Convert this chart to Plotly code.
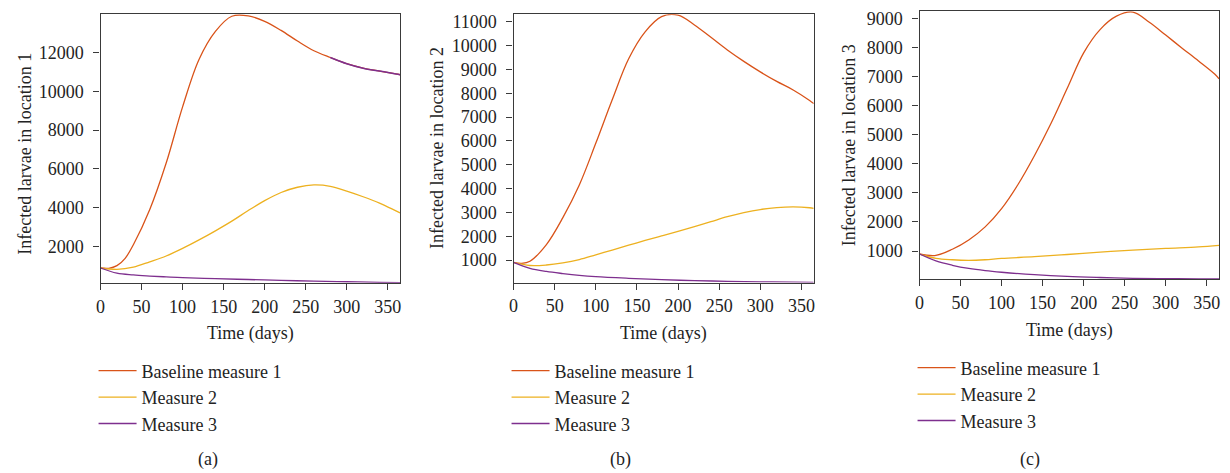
import plotly.graph_objects as go

# ---------------- data ----------------
series_names = ["Baseline measure 1", "Measure 2", "Measure 3"]
panel_labels = ["(a)", "(b)", "(c)"]
y_titles = ["Infected larvae in location 1", "Infected larvae in location 2", "Infected larvae in location 3"]
x_title = "Time (days)"

# Panel (a)
a_base_t = [0, 10, 20, 30, 40, 60, 80, 100, 120, 140, 160, 180, 200, 220, 240, 260, 280, 300, 320, 340, 360, 365]
a_base_v = [880, 865, 1000, 1380, 2080, 3900, 6300, 9200, 11650, 13100, 13880, 13900, 13620, 13150, 12600, 12100, 11750, 11430, 11200, 11050, 10900, 10860]
a_m2_t = [0, 20, 40, 60, 80, 100, 120, 140, 160, 180, 200, 220, 240, 260, 280, 300, 320, 340, 360, 365]
a_m2_v = [880, 805, 920, 1200, 1500, 1890, 2330, 2800, 3300, 3850, 4360, 4780, 5050, 5170, 5100, 4850, 4560, 4230, 3830, 3730]
a_m3_t = [0, 20, 40, 60, 80, 100, 140, 180, 220, 260, 300, 340, 365]
a_m3_v = [880, 610, 520, 465, 420, 380, 330, 285, 240, 200, 170, 140, 125]

# Panel (b)
b_base_t = [0, 10, 20, 40, 60, 80, 100, 120, 140, 160, 180, 200, 220, 240, 260, 280, 300, 320, 340, 360, 365]
b_base_v = [900, 860, 950, 1650, 2780, 4150, 5900, 7730, 9450, 10580, 11220, 11280, 10870, 10350, 9820, 9340, 8900, 8500, 8140, 7700, 7570]
b_m2_t = [0, 20, 40, 60, 80, 100, 120, 140, 160, 180, 200, 220, 240, 260, 280, 300, 320, 340, 360, 365]
b_m2_v = [900, 770, 790, 880, 1020, 1220, 1420, 1620, 1820, 2010, 2200, 2400, 2610, 2820, 2990, 3120, 3200, 3230, 3195, 3170]
b_m3_t = [0, 20, 40, 60, 80, 100, 140, 180, 220, 260, 300, 340, 365]
b_m3_v = [900, 650, 520, 430, 355, 300, 230, 175, 135, 105, 85, 68, 60]

# Panel (c)
c_base_t = [0, 20, 40, 60, 80, 100, 120, 140, 160, 180, 200, 220, 240, 260, 280, 300, 320, 340, 360, 365]
c_base_v = [897, 850, 1060, 1380, 1830, 2460, 3290, 4280, 5380, 6600, 7820, 8620, 9080, 9220, 8870, 8430, 7980, 7540, 7080, 6920]
c_m2_t = [0, 20, 40, 60, 80, 100, 140, 180, 220, 260, 300, 340, 365]
c_m2_v = [897, 750, 700, 680, 700, 745, 805, 880, 960, 1030, 1090, 1140, 1195]
c_m3_t = [0, 20, 40, 60, 80, 100, 140, 180, 220, 260, 300, 340, 365]
c_m3_v = [897, 660, 510, 400, 325, 270, 185, 125, 88, 62, 50, 42, 40]

y_tick_vals = [
    [2000, 4000, 6000, 8000, 10000, 12000],
    [1000, 2000, 3000, 4000, 5000, 6000, 7000, 8000, 9000, 10000, 11000],
    [1000, 2000, 3000, 4000, 5000, 6000, 7000, 8000, 9000],
]
x_tick_vals = [0, 50, 100, 150, 200, 250, 300, 350]

# ---------------- style ----------------
W, H = 1230, 473
FONT = "Liberation Serif"
TXT = "#232323"
AX = "#3a3a3a"
colors = ["#D95319", "#EDB120", "#7E2F8E"]
y_ranges = [[115, 14000], [55, 11320], [33, 9250]]
# pixel boxes: left, right, top, bottom
boxes = [(96, 397, 12, 282), (511, 812.7, 12.3, 281.7), (919, 1220, 9.3, 278.3)]

def px(x):
    return x / W

def py(y):
    return 1 - y / H

fig = go.Figure()
panels = [
    [(a_base_t, a_base_v), (a_m2_t, a_m2_v), (a_m3_t, a_m3_v)],
    [(b_base_t, b_base_v), (b_m2_t, b_m2_v), (b_m3_t, b_m3_v)],
    [(c_base_t, c_base_v), (c_m2_t, c_m2_v), (c_m3_t, c_m3_v)],
]
legend_ids = ["legend", "legend2", "legend3"]

for p, plist in enumerate(panels):
    xa = "x" if p == 0 else f"x{p+1}"
    ya = "y" if p == 0 else f"y{p+1}"
    for s, (t, v) in enumerate(plist):
        fig.add_trace(go.Scatter(
            x=t, y=v, mode="lines", name=series_names[s],
            line=dict(color=colors[s], width=1.3, shape="spline", smoothing=1.0),
            xaxis=xa, yaxis=ya, legend=legend_ids[p], showlegend=True,
        ))
    if p == 0:
        # in the reference the late part of the top curve in panel (a) is rendered in purple
        tt = [t for t in a_base_t if t >= 270]
        vv = [v for t, v in zip(a_base_t, a_base_v) if t >= 270]
        fig.add_trace(go.Scatter(
            x=tt, y=vv, mode="lines", showlegend=False, hoverinfo="skip",
            line=dict(color=colors[2], width=1.5, shape="spline", smoothing=1.0),
            xaxis=xa, yaxis=ya,
        ))

layout = dict(
    width=W, height=H, margin=dict(l=0, r=0, t=0, b=0),
    paper_bgcolor="white", plot_bgcolor="white",
    font=dict(family=FONT, size=18, color=TXT),
    annotations=[],
)

for p in range(3):
    l, r, t, b = boxes[p]
    sfx = "" if p == 0 else str(p + 1)
    layout["xaxis" + sfx] = dict(
        domain=[px(l), px(r)], range=[0, 365], anchor="y" + sfx,
        tickvals=x_tick_vals, ticks="outside", ticklen=6, tickcolor=AX, tickwidth=1,
        showline=True, linecolor=AX, linewidth=1.2, mirror=True,
        showgrid=False, zeroline=False, ticklabelstandoff=1,
        tickfont=dict(family=FONT, size=18, color=TXT),
    )
    layout["yaxis" + sfx] = dict(
        domain=[py(b), py(t)], range=y_ranges[p], anchor="x" + sfx,
        tickvals=y_tick_vals[p], tickformat="d", ticks="outside", ticklen=6, tickcolor=AX, tickwidth=1,
        showline=True, linecolor=AX, linewidth=1.2, mirror=True,
        showgrid=False, zeroline=False, ticklabelstandoff=6,
        tickfont=dict(family=FONT, size=18, color=TXT),
    )

ytitle_pos = [(20, 152.5), (434, 146.7), (849, 144)]
xtitle_pos = [(246.5, 332.7), (662, 333), (1069.5, 330)]
label_pos = [(203.7, 459), (619, 459), (1030, 459)]
legend_pos = [(89, 352), (504, 352), (912, 349)]

for p in range(3):
    layout["annotations"].append(dict(
        text=y_titles[p], x=px(ytitle_pos[p][0]), y=py(ytitle_pos[p][1]),
        xref="paper", yref="paper", xanchor="center", yanchor="middle",
        textangle=-90, showarrow=False, font=dict(family=FONT, size=18, color=TXT)))
    layout["annotations"].append(dict(
        text=x_title, x=px(xtitle_pos[p][0]), y=py(xtitle_pos[p][1]),
        xref="paper", yref="paper", xanchor="center", yanchor="middle",
        showarrow=False, font=dict(family=FONT, size=18, color=TXT)))
    layout["annotations"].append(dict(
        text=panel_labels[p], x=px(label_pos[p][0]), y=py(label_pos[p][1]),
        xref="paper", yref="paper", xanchor="center", yanchor="middle",
        showarrow=False, font=dict(family=FONT, size=18, color=TXT)))
    layout[legend_ids[p]] = dict(
        x=px(legend_pos[p][0]), y=py(legend_pos[p][1]), xanchor="left", yanchor="top",
        bgcolor="rgba(0,0,0,0)", borderwidth=0, font=dict(family=FONT, size=18, color=TXT),
        itemwidth=38, tracegroupgap=0,
    )

fig.update_layout(**layout)
fig.write_html("out.html")
